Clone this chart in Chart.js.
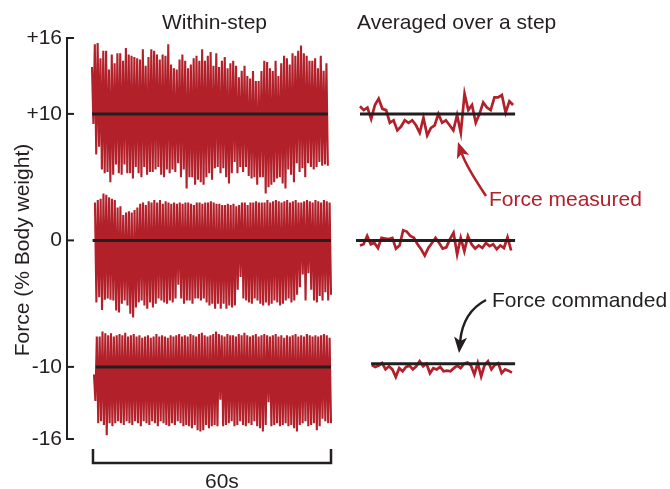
<!DOCTYPE html>
<html>
<head>
<meta charset="utf-8">
<script src="https://cdn.jsdelivr.net/npm/chart.js@4.4.1/dist/chart.umd.min.js"></script>
<style>
  html, body { margin: 0; padding: 0; background: #fff; }
  canvas { display: block; }
</style>
</head>
<body>
<canvas id="forceChart" width="670" height="489"></canvas>
<script>
// ---- data (force, % body weight) ----
const TICK_VALUES = [16, 10, 0, -10, -15.7];
const TICK_LABELS = ['+16', '+10', '0', '-10', '-16'];

const COMMANDED = [10, 0, -10];          // within-step commanded force
const AVG_COMMANDED = [10, 0, -9.75];     // averaged panel commanded force

// within-step: step peaks and troughs, in order
const TOP_PEAKS = [13.7,15.5,15.6,14.4,15.0,15.0,13.5,14.7,14.0,14.8,14.8,14.2,15.2,14.7,
  14.6,14.5,14.4,14.3,15.1,13.8,14.5,15.1,15.0,14.7,14.3,14.7,14.6,15.5,
  13.9,13.6,13.5,14.3,14.7,14.2,13.6,13.9,14.4,14.6,14.2,15.1,14.2,14.6,
  14.9,13.8,14.8,13.7,14.2,14.5,13.6,14.0,14.2,13.8,12.9,13.4,13.8,13.0,
  12.8,13.4,12.6,12.6,13.4,14.2,14.1,13.6,13.4,14.2,13.0,14.0,14.6,14.4,
  13.9,14.8,14.6,15.0,15.4,14.8,14.6,14.2,14.2,14.4,13.6,14.6,13.4,14.0];
const TOP_TROUGHS = [9.2,6.8,7.4,5.6,5.3,5.4,4.6,5.2,6.0,5.3,5.2,6.0,5.3,5.3,
  4.9,5.8,5.3,5.0,5.8,5.2,5.4,5.4,5.6,5.8,5.2,5.0,5.6,5.3,
  5.6,5.4,6.1,5.0,5.6,4.1,5.0,5.0,4.4,4.8,4.6,4.4,5.0,5.3,
  4.8,5.7,5.8,5.3,5.7,5.0,4.5,5.3,6.2,5.3,5.8,5.4,5.8,5.1,
  4.9,5.0,4.4,5.0,5.0,3.7,4.2,4.4,4.6,4.9,5.0,4.5,4.1,5.6,
  5.2,4.6,6.1,5.4,5.7,5.0,6.1,5.8,5.6,5.8,6.2,5.9,6.0,5.9];

const MID_PEAKS = [3.0,3.2,3.3,3.7,3.6,3.4,3.3,3.2,2.6,2.7,2.0,2.2,2.3,2.2,
  2.4,2.6,2.9,3.0,2.8,3.1,3.0,3.2,3.0,3.2,2.9,3.1,3.0,2.9,
  3.0,2.9,3.0,2.9,3.0,3.0,2.9,2.8,3.0,3.0,2.9,3.0,3.0,3.1,
  3.0,2.9,2.9,2.8,2.8,2.9,2.8,2.9,2.7,2.8,3.0,3.0,2.8,3.0,
  3.0,3.1,3.0,3.0,3.0,3.2,3.0,3.1,3.2,3.1,3.0,3.1,3.2,3.0,
  3.1,3.2,3.0,3.0,3.1,3.2,3.1,3.0,3.2,3.1,3.0,3.2,3.1,3.0];
const MID_TROUGHS = [-4.9,-4.5,-5.5,-4.7,-4.6,-4.7,-4.75,-5.55,-5.7,-5.0,-4.75,-5.15,-5.8,-6.1,
  -5.3,-4.9,-4.75,-5.15,-5.4,-4.9,-5.3,-5.0,-4.6,-4.75,-4.9,-5.0,-4.75,-4.9,
  -4.6,-3.5,-4.6,-5.0,-4.75,-4.75,-5.0,-4.6,-4.6,-4.75,-4.6,-4.9,-5.15,-5.0,
  -5.4,-5.0,-5.4,-5.0,-5.4,-5.15,-5.3,-5.15,-3.9,-2.9,-4.6,-4.75,-4.9,-5.0,
  -4.6,-4.75,-5.0,-5.15,-4.9,-5.15,-5.0,-4.75,-4.9,-5.15,-5.0,-4.75,-4.6,-4.9,
  -4.75,-4.3,-3.7,-2.7,-4.75,-2.6,-3.9,-4.75,-4.9,-4.4,-4.75,-4.1,-4.75,-4.3];

const BOT_PEAKS = [-10.6,-7.6,-7.6,-7.2,-7.35,-7.5,-7.35,-7.6,-7.5,-7.4,-7.5,-7.3,-7.6,-7.5,
  -7.4,-7.6,-7.5,-7.7,-7.6,-7.5,-7.7,-7.6,-7.4,-7.6,-7.5,-7.6,-7.7,-7.5,
  -7.6,-7.5,-7.4,-7.6,-7.5,-7.6,-7.4,-7.5,-7.6,-7.4,-7.3,-7.5,-7.6,-7.5,
  -7.4,-7.2,-7.4,-7.5,-7.6,-7.4,-7.5,-7.5,-7.6,-7.4,-7.5,-7.3,-7.5,-7.6,
  -7.5,-7.4,-7.6,-7.5,-7.4,-7.5,-7.6,-7.5,-7.4,-7.6,-7.5,-7.7,-7.5,-7.6,
  -7.5,-7.4,-7.6,-7.5,-7.6,-7.4,-7.5,-7.6,-7.5,-7.6,-7.5,-7.4,-7.5,-7.7];
const BOT_TROUGHS = [-12.7,-14.45,-14.3,-14.6,-15.4,-14.45,-14.7,-14.45,-14.3,-14.45,-14.6,-14.3,-14.45,-14.6,
  -14.3,-14.45,-14.7,-14.3,-14.45,-14.6,-14.3,-14.45,-14.7,-14.3,-14.45,-14.6,-14.7,-14.45,
  -14.6,-14.3,-14.45,-14.7,-14.6,-14.7,-14.85,-14.6,-15.0,-15.1,-15.0,-14.6,-14.85,-14.7,
  -14.6,-14.7,-12.6,-14.7,-14.6,-14.45,-14.3,-14.7,-14.6,-14.3,-14.6,-14.7,-14.45,-14.6,
  -14.3,-14.7,-14.85,-15.1,-14.6,-12.8,-14.7,-14.6,-14.45,-14.7,-14.6,-14.45,-14.7,-14.6,
  -14.85,-15.1,-14.6,-14.45,-14.3,-14.7,-14.6,-14.45,-15.0,-14.7,-14.1,-14.3,-14.45,-14.45];

// averaged over a step, one value per step
const AVG_TOP = [10.6,10.3,10.5,9.6,10.7,11.2,10.4,10.3,9.3,9.5,8.7,9.0,9.5,9.3,9.5,9.1,8.5,9.7,8.3,8.9,9.1,
  10.0,9.3,9.5,9.1,8.7,9.9,8.5,11.6,10.3,10.7,9.3,10.0,10.9,10.5,10.3,11.3,11.3,11.5,10.1,11.0,10.7];
const AVG_MID = [-0.4,-0.3,0.35,-0.3,-0.2,-0.6,0.2,0.15,0.1,0.2,-0.65,-0.4,0.8,0.7,0.35,0.2,-0.3,-0.7,-1.2,-0.6,-0.2,
  0.2,-0.2,-0.65,-0.55,0.1,0.6,-1.1,0.2,-0.85,0.35,-0.3,-0.65,-0.4,-0.6,-0.2,-0.45,-0.3,-0.7,-0.4,-0.6,0.25,-0.8];
const AVG_BOT = [-9.85,-10.0,-9.9,-9.7,-10.2,-9.95,-10.2,-10.8,-10.1,-10.35,-10.0,-9.9,-10.2,-9.95,-9.55,-9.95,-9.75,
  -10.5,-10.1,-10.2,-10.0,-10.35,-10.3,-10.35,-10.1,-9.9,-10.1,-9.75,-9.65,-9.9,-10.6,-9.7,-10.75,-9.85,-9.55,
  -10.2,-9.85,-9.7,-10.5,-10.2,-10.3,-10.45];

// ---- layout (x in seconds of the within-step panel) ----
const X_MIN = -6.55, X_MAX = 145.45;
const WITHIN_SPANS = [[-0.25, 59.2], [0.5, 60], [0.25, 60]];
const WITHIN_LINE_SPANS = [[-0.25, 59.2], [-0.1, 60], [0.7, 60]];
const AVG_SPANS = [[67.3, 105.9], [67.3, 105.4], [70.3, 105.6]];
const AVG_LINE_SPANS = [[67.3, 106.4], [66.3, 106.4], [70.1, 106.4]];

const RED = '#b2202a';
const INK = '#231f20';
const FONT = '"Liberation Sans", Arial, Helvetica, sans-serif';

function spread(values, span) {
  const step = (span[1] - span[0]) / (values.length - 1);
  return values.map((v, i) => ({ x: span[0] + i * step, y: v }));
}

function zigzag(peaks, troughs, span) {
  const vals = [];
  peaks.forEach((p, i) => { vals.push(p, troughs[i]); });
  return spread(vals, span);
}

function level(v, span) {
  return [{ x: span[0], y: v }, { x: span[1], y: v }];
}

const measured = [
  zigzag(TOP_PEAKS, TOP_TROUGHS, WITHIN_SPANS[0]),
  zigzag(MID_PEAKS, MID_TROUGHS, WITHIN_SPANS[1]),
  zigzag(BOT_PEAKS, BOT_TROUGHS, WITHIN_SPANS[2])
];
const averaged = [
  spread(AVG_TOP, AVG_SPANS[0]),
  spread(AVG_MID, AVG_SPANS[1]),
  spread(AVG_BOT, AVG_SPANS[2])
];

const datasets = [];
COMMANDED.forEach((v, i) => datasets.push({
  data: level(v, WITHIN_LINE_SPANS[i]), borderColor: INK, borderWidth: 3, order: 0
}));
AVG_COMMANDED.forEach((v, i) => datasets.push({
  data: level(v, AVG_LINE_SPANS[i]), borderColor: INK, borderWidth: 3, order: 0
}));
measured.forEach(d => datasets.push({ data: d, borderColor: RED, borderWidth: 2.1, order: 1 }));
averaged.forEach(d => datasets.push({ data: d, borderColor: RED, borderWidth: 2.7, order: 1 }));

function arrow(ctx, start, ctrl, tip, color) {
  const ang = Math.atan2(tip[1] - ctrl[1], tip[0] - ctrl[0]);
  const cos = Math.cos(ang), sin = Math.sin(ang);
  const len = 16, half = 6.5, notch = 4;
  const bx = tip[0] - len * cos, by = tip[1] - len * sin;
  ctx.strokeStyle = color;
  ctx.fillStyle = color;
  ctx.lineWidth = 2.5;
  ctx.beginPath();
  ctx.moveTo(start[0], start[1]);
  ctx.quadraticCurveTo(ctrl[0], ctrl[1], bx + notch * cos, by + notch * sin);
  ctx.stroke();
  ctx.beginPath();
  ctx.moveTo(tip[0], tip[1]);
  ctx.lineTo(bx - sin * half, by + cos * half);
  ctx.lineTo(bx + notch * cos, by + notch * sin);
  ctx.lineTo(bx + sin * half, by - cos * half);
  ctx.closePath();
  ctx.fill();
}

const decorations = {
  id: 'decorations',
  afterDraw(chart) {
    const ctx = chart.ctx;
    const xs = chart.scales.x, ys = chart.scales.y;
    const area = chart.chartArea;
    ctx.save();

    // y axis line with inward ticks
    ctx.strokeStyle = INK;
    ctx.lineWidth = 2;
    ctx.beginPath();
    ctx.moveTo(area.left, area.top - 1);
    ctx.lineTo(area.left, area.bottom + 1);
    ctx.stroke();
    TICK_VALUES.forEach(v => {
      const y = ys.getPixelForValue(v);
      ctx.beginPath();
      ctx.moveTo(area.left - 1, y);
      ctx.lineTo(area.left + 7, y);
      ctx.stroke();
    });

    // 60 s scale bar
    const x0 = xs.getPixelForValue(0), x1 = xs.getPixelForValue(60);
    ctx.lineWidth = 2.5;
    ctx.beginPath();
    ctx.moveTo(x0, 449);
    ctx.lineTo(x0, 463);
    ctx.lineTo(x1, 463);
    ctx.lineTo(x1, 449);
    ctx.stroke();

    ctx.font = '21px ' + FONT;
    ctx.fillStyle = INK;
    ctx.textBaseline = 'alphabetic';
    ctx.textAlign = 'left';
    ctx.fillText('60s', 205, 488);
    ctx.fillText('Within-step', 162, 29);
    ctx.fillText('Averaged over a step', 357, 29);
    ctx.fillText('Force commanded', 492, 307);
    ctx.fillStyle = RED;
    ctx.fillText('Force measured', 489, 206);

    // y axis title
    ctx.save();
    ctx.translate(29, 250);
    ctx.rotate(-Math.PI / 2);
    ctx.textAlign = 'center';
    ctx.fillStyle = INK;
    ctx.fillText('Force (% Body weight)', 0, 0);
    ctx.restore();

    arrow(ctx, [486, 196], [466, 166], [458, 142], RED);
    arrow(ctx, [486, 300], [463, 312], [459, 353], INK);
    ctx.restore();
  }
};

new Chart(document.getElementById('forceChart'), {
  type: 'line',
  data: { datasets: datasets },
  options: {
    responsive: false,
    animation: false,
    devicePixelRatio: 1,
    events: [],
    layout: { padding: { top: 38, bottom: 50, left: 0, right: 0 } },
    elements: { point: { radius: 0 }, line: { tension: 0 } },
    plugins: { legend: { display: false }, tooltip: { enabled: false } },
    scales: {
      x: { type: 'linear', display: false, min: X_MIN, max: X_MAX },
      y: {
        type: 'linear',
        min: -15.7,
        max: 16,
        afterFit: s => { s.width = 67; },
        afterBuildTicks: s => { s.ticks = TICK_VALUES.map(v => ({ value: v })); },
        grid: { display: false, drawTicks: false },
        border: { display: false },
        ticks: {
          padding: 5,
          color: INK,
          font: { family: FONT, size: 21 },
          callback: (v, i) => TICK_LABELS[i]
        }
      }
    }
  },
  plugins: [decorations]
});
</script>
</body>
</html>
